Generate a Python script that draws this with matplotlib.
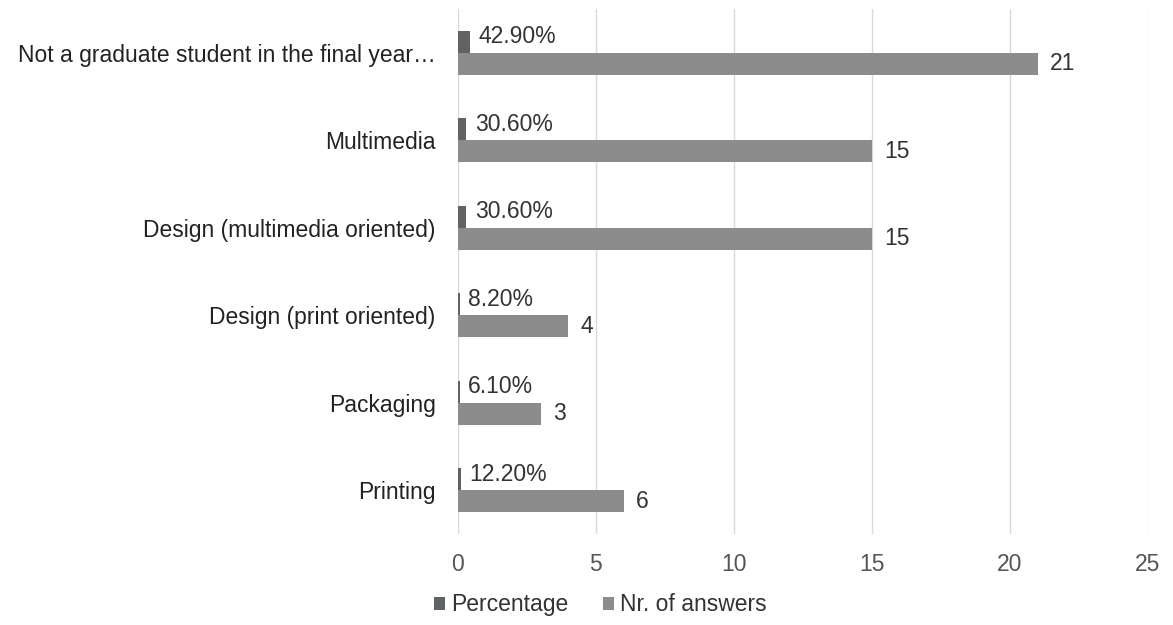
import matplotlib.pyplot as plt
import numpy as np

categories = ["Not a graduate student in the final year…", "Multimedia",
              "Design (multimedia oriented)", "Design (print oriented)",
              "Packaging", "Printing"]
percentage = [0.429, 0.306, 0.306, 0.082, 0.061, 0.122]
answers = [21, 15, 15, 4, 3, 6]
xticks = [0, 5, 10, 15, 20, 25]

plt.rcParams['font.family'] = ['Liberation Sans', 'DejaVu Sans']
fs = 16.5

fig = plt.figure(figsize=(11.73, 6.25), dpi=100)
ax = fig.add_axes([0.3904, 0.1456, 0.5883, 0.84])

y = np.arange(len(categories))
h = 0.25
ax.barh(y - h / 2, percentage, height=h, color="#5f6366", label="Percentage", zorder=3)
ax.barh(y + h / 2, answers, height=h, color="#8c8c8c", label="Nr. of answers", zorder=3)

for i in range(len(categories)):
    ax.text(percentage[i] + 0.3, y[i] - h / 2 - 0.06, "%.2f%%" % (percentage[i] * 100),
            va="center", ha="left", fontsize=fs, color="#333333")
    ax.text(answers[i] + 0.45, y[i] + h / 2, str(answers[i]),
            va="center", ha="left", fontsize=fs, color="#333333")

ax.set_xlim(0, 25)
ax.set_ylim(len(categories) - 0.5, -0.5)
ax.set_xticks(xticks)
ax.set_yticks(y)
ax.set_yticklabels(categories, fontsize=fs, color="#222222")
ax.tick_params(axis="x", labelsize=fs, labelcolor="#555555", length=0, pad=14)
ax.tick_params(axis="y", length=0, pad=16)
ax.grid(axis="x", color="#d9d9d9", lw=1, zorder=0)
for s in ax.spines.values():
    s.set_visible(False)

ax.legend(loc="center", bbox_to_anchor=(0.206, -0.135), ncol=2, frameon=False,
          fontsize=fs, handlelength=0.5, handleheight=0.5, handletextpad=0.25,
          columnspacing=1.5, labelcolor="#333333", borderpad=0)

fig.savefig("out.png", dpi=100)
